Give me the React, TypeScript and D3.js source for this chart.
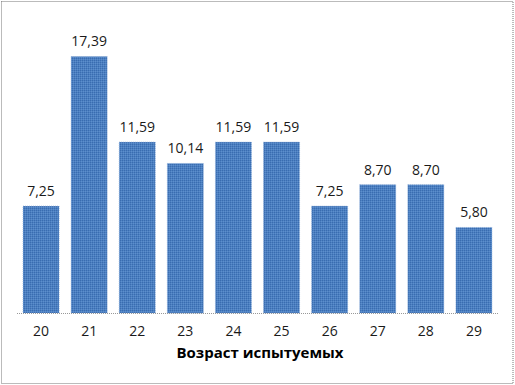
import React from "react";
import * as d3 from "d3";

const categories = ["20", "21", "22", "23", "24", "25", "26", "27", "28", "29"];
const values = [7.25, 17.39, 11.59, 10.14, 11.59, 11.59, 7.25, 8.7, 8.7, 5.8];
const axisTitle = "Возраст испытуемых";

const W = 515;
const H = 385;
const plot = { left: 17, right: 498, top: 18, bottom: 313 };

const locale = d3.formatLocale({ decimal: ",", thousands: " ", grouping: [3], currency: ["", ""] });
const fmt = locale.format(".2f");

export default function App() {
  const x = d3
    .scaleBand<string>()
    .domain(categories)
    .range([plot.left, plot.right])
    .paddingInner(0.25)
    .paddingOuter(0.125);
  const y = d3.scaleLinear().domain([0, 20]).range([plot.bottom, plot.top]);
  const font = "Open Sans, 'Noto Sans', sans-serif";

  return (
    <svg
      width={W}
      height={H}
      style={{ position: "absolute", left: 0, top: 0, background: "#fff" }}
    >
      <defs>
        <pattern id="barPat" width="4" height="4" patternUnits="userSpaceOnUse">
          <rect width="4" height="4" fill="#4b7fc0" />
          <rect x="0" y="0" width="1" height="1" fill="#3a6cb0" />
          <rect x="2" y="0" width="1" height="1" fill="#3a6cb0" />
          <rect x="1" y="1" width="1" height="1" fill="#5d8ecc" />
          <rect x="3" y="1" width="1" height="1" fill="#5d8ecc" />
          <rect x="0" y="2" width="1" height="1" fill="#3a6cb0" />
          <rect x="2" y="2" width="1" height="1" fill="#3a6cb0" />
          <rect x="1" y="3" width="1" height="1" fill="#5d8ecc" />
          <rect x="3" y="3" width="1" height="1" fill="#5d8ecc" />
        </pattern>
      </defs>
      <rect
        x={1.5}
        y={1.5}
        width={W - 3.5}
        height={H - 3}
        fill="#fff"
        stroke="#777"
        strokeWidth={1}
        strokeDasharray="1,1"
      />
      {categories.map((c, i) => (
        <rect
          key={c}
          x={x(c)}
          y={y(values[i])}
          width={x.bandwidth()}
          height={y(0) - y(values[i])}
          fill="url(#barPat)"
          stroke="#7fa3d4"
          strokeWidth={0.6}
          strokeDasharray="1,1"
        />
      ))}
      <line
        x1={plot.left}
        x2={plot.right}
        y1={plot.bottom + 0.5}
        y2={plot.bottom + 0.5}
        stroke="#999"
        strokeDasharray="1,1"
      />
      {categories.map((c, i) => (
        <text
          key={"v" + c}
          x={(x(c) as number) + x.bandwidth() / 2}
          y={y(values[i]) - 10}
          textAnchor="middle"
          fontFamily={font}
          fontSize={14}
          fill="#1a1a1a"
        >
          {fmt(values[i])}
        </text>
      ))}
      {categories.map((c) => (
        <text
          key={"t" + c}
          x={(x(c) as number) + x.bandwidth() / 2}
          y={336}
          textAnchor="middle"
          fontFamily={font}
          fontSize={14}
          fill="#1a1a1a"
        >
          {c}
        </text>
      ))}
      <text
        x={260}
        y={357.5}
        textAnchor="middle"
        fontFamily={font}
        fontSize={15}
        fontWeight="bold"
        fill="#000"
      >
        {axisTitle}
      </text>
    </svg>
  );
}
